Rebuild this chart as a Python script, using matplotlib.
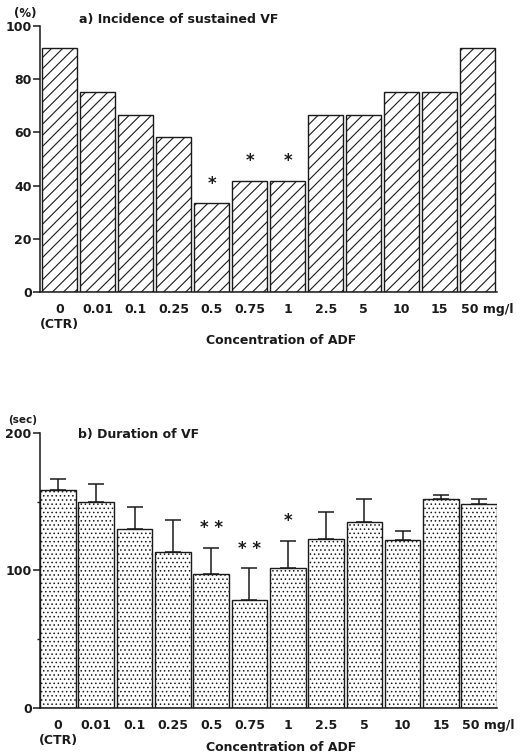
import matplotlib
matplotlib.use("Agg")
import matplotlib.pyplot as plt
import matplotlib.transforms as mtransforms
import numpy as np

plt.rcParams['font.family'] = ['DejaVu Sans']
plt.rcParams['font.weight'] = 'bold'
plt.rcParams['axes.labelweight'] = 'bold'

# data
conc = ['0\n(CTR)', '0.01', '0.1', '0.25', '0.5', '0.75', '1', '2.5', '5', '10', '15', '50 mg/l']
incidence = [91.7, 75, 66.7, 58.3, 33.3, 41.7, 41.7, 66.7, 66.7, 75, 75, 91.7]
inc_stars = ['', '', '', '', '*', '*', '*', '', '', '', '', '']
duration = [158.5, 149.5, 130, 113.5, 97.5, 78.5, 102, 122.6, 135, 122, 152.2, 148]
dur_err = [8, 13.5, 16.4, 23.2, 19.1, 23.1, 19.5, 20, 17.2, 7, 2.8, 3.8]
dur_stars = ['', '', '', '', '* *', '* *', '*', '', '', '', '', '']

ink = '#1a1a1a'
fig = plt.figure(figsize=(5.31, 7.55), dpi=100)
x = np.arange(len(conc))


def style_axis(ax):
    for s in ['top', 'right']:
        ax.spines[s].set_visible(False)
    for s in ['left', 'bottom']:
        ax.spines[s].set_linewidth(1.1)
        ax.spines[s].set_color(ink)
    ax.tick_params(axis='y', direction='out', length=5, width=1.1, colors=ink,
                   labelsize=9, pad=1)
    ax.tick_params(axis='x', length=0, labelsize=9, pad=8, colors=ink)
    ax.set_xticks(x)
    ax.set_xticklabels(conc, linespacing=1.15)
    labels = ax.get_xticklabels()
    last = labels[-1]
    last.set_ha('left')
    last.set_transform(last.get_transform() +
                       mtransforms.ScaledTranslation(-0.17, 0, fig.dpi_scale_trans))


# a) incidence
ax1 = fig.add_axes([0.0753, 0.6132, 0.861, 0.3524])
with plt.rc_context({'hatch.linewidth': 0.8, 'hatch.color': ink}):
    ax1.bar(x, incidence, width=0.92, color='white', edgecolor=ink,
            linewidth=1.0, hatch='///')
for xi, v, s in zip(x, incidence, inc_stars):
    if s:
        ax1.text(xi, v + 5.5, s, ha='center', va='baseline', fontsize=12, color=ink)
ax1.set_xlim(-0.51, 11.51)
ax1.set_ylim(0, 100)
ax1.set_yticks([0, 20, 40, 60, 80, 100])
style_axis(ax1)
ax1.set_xlabel('Concentration of ADF', fontsize=9, color=ink, fontweight='bold')
ax1.xaxis.set_label_coords(0.527, -0.158)
ax1.text(-0.033, 1.045, '(%)', transform=ax1.transAxes, ha='center',
         va='center', fontsize=8.5, color=ink)
ax1.text(0.085, 1.026, 'a) Incidence of sustained VF', transform=ax1.transAxes,
         ha='left', va='center', fontsize=9, color=ink)

# b) duration
ax2 = fig.add_axes([0.0753, 0.0623, 0.861, 0.3642])
with plt.rc_context({'hatch.linewidth': 0.6, 'hatch.color': '#808080'}):
    ax2.bar(x, duration, width=0.93, color='white', edgecolor=ink,
            linewidth=1.0, hatch='....', zorder=2)
ax2.errorbar(x, duration, yerr=[np.zeros(len(x)), dur_err], fmt='none',
             ecolor=ink, elinewidth=1.1, capsize=6, capthick=1.1, zorder=1)
for xi, v, e, s in zip(x, duration, dur_err, dur_stars):
    if s:
        ax2.text(xi, v + e + 10.5, s, ha='center', va='baseline', fontsize=12, color=ink)
ax2.set_xlim(-0.47, 11.47)
ax2.set_ylim(0, 200)
ax2.set_yticks([0, 100, 200])
ax2.set_yticks([50, 150], minor=True)
style_axis(ax2)
ax2.tick_params(axis='y', which='minor', length=2, width=1.0, colors=ink)
ax2.set_xlabel('Concentration of ADF', fontsize=9, color=ink, fontweight='bold')
ax2.xaxis.set_label_coords(0.527, -0.12)
ax2.text(-0.039, 1.047, '(sec)', transform=ax2.transAxes, ha='center',
         va='center', fontsize=7.5, color=ink)
ax2.text(0.083, 0.996, 'b) Duration of VF', transform=ax2.transAxes,
         ha='left', va='center', fontsize=9, color=ink)

fig.savefig('out.png', dpi=100)
